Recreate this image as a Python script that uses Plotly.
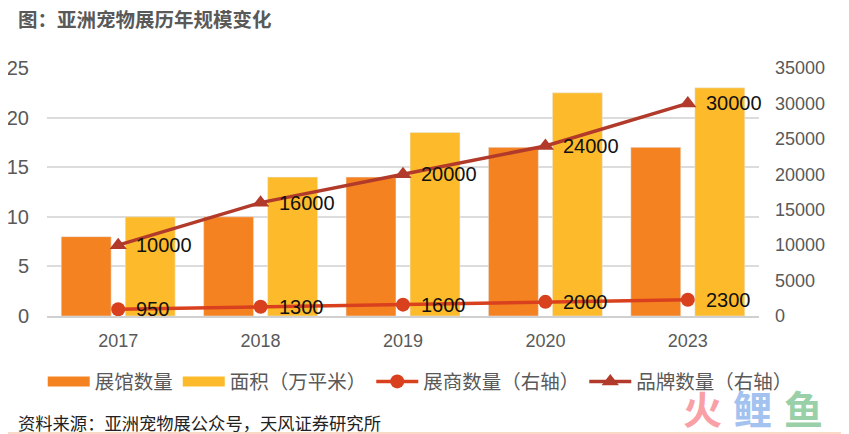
import plotly.graph_objects as go

years = ['2017', '2018', '2019', '2020', '2023']
halls = [8, 10, 14, 17, 17]
area = [10, 14, 18.5, 22.5, 23]
exhibitors = [950, 1300, 1600, 2000, 2300]
brands = [10000, 16000, 20000, 24000, 30000]

FONT = 'Liberation Sans, Noto Sans CJK SC, sans-serif'
CJK = 'Noto Sans CJK SC, sans-serif'
ORANGE = '#F58220'
YELLOW = '#FDBB2B'
RED = '#D9411E'
BROWN = '#B23A2A'

fig = go.Figure()
fig.add_trace(go.Bar(x=years, y=halls, marker_color=ORANGE, showlegend=False))
fig.add_trace(go.Bar(x=years, y=area, marker_color=YELLOW, showlegend=False))
# thick legend-only lines, the bar swatches are too small otherwise
fig.add_trace(go.Scatter(x=years, y=[None] * 5, name='展馆数量', mode='lines',
                         line=dict(color=ORANGE, width=10)))
fig.add_trace(go.Scatter(x=years, y=[None] * 5, name='面积（万平米）', mode='lines',
                         line=dict(color=YELLOW, width=10)))
fig.add_trace(go.Scatter(x=years, y=exhibitors, name='展商数量（右轴）', yaxis='y2',
                         mode='lines+markers',
                         line=dict(color=RED, width=3.5),
                         marker=dict(color=RED, size=14, symbol='circle')))
fig.add_trace(go.Scatter(x=years, y=brands, name='品牌数量（右轴）', yaxis='y2',
                         mode='lines+markers',
                         line=dict(color=BROWN, width=3.5),
                         marker=dict(color=BROWN, size=15, symbol='triangle-up')))

notes = [
    dict(text='<b>图：亚洲宠物展历年规模变化</b>', xref='paper', yref='paper',
         x=-0.044, y=1.2, xanchor='left', yanchor='middle', showarrow=False,
         font=dict(size=19.5, color='#595959', family=CJK)),
    dict(text='资料来源：亚洲宠物展公众号，天风证券研究所', xref='paper', yref='paper',
         x=-0.043, y=-0.431, xanchor='left', yanchor='middle', showarrow=False,
         font=dict(size=17.3, color='#222222', family=CJK)),
]
# data labels sit further from the markers than textposition allows
# (x is the category index: '2017' as a string reads as position 2017)
for vals in (exhibitors, brands):
    for i, v in enumerate(vals):
        notes.append(dict(text=str(v), x=i, y=v, xref='x', yref='y2', xshift=16,
                          xanchor='left', yanchor='middle', showarrow=False,
                          font=dict(size=20, color='#111111', family=FONT)))
# watermark
for ch, col, px in [('火', '#F9A0A6', 702), ('鲤', '#A4C2F0', 752), ('鱼', '#9AD0A8', 803)]:
    notes.append(dict(text='<b>%s</b>' % ch, xref='paper', yref='paper',
                      x=(px - 47) / 712, y=-0.367, xanchor='center', yanchor='middle',
                      showarrow=False, font=dict(size=39, color=col, family=CJK)))

fig.update_layout(
    width=841, height=426,
    autosize=False,
    paper_bgcolor='white', plot_bgcolor='white',
    margin=dict(l=39, r=90, t=60, b=118),
    barmode='group', bargap=0.101, bargroupgap=0.22,
    font=dict(family=FONT, size=18, color='#595959'),
    # fixed range, the labels on the last point would widen it otherwise
    xaxis=dict(type='category', categoryorder='array', categoryarray=years,
               range=[-0.5, 4.5], automargin=False, showline=True,
               linecolor='#d0d0d0', linewidth=1.5, ticks='', showgrid=False,
               tickfont=dict(size=18), ticklabelstandoff=8),
    yaxis=dict(range=[0, 25], dtick=5, gridcolor='#dcdcdc', gridwidth=1.5, automargin=False,
               zeroline=False, ticks='outside', ticklen=13, tickcolor='rgba(0,0,0,0)',
               tickfont=dict(size=20)),
    yaxis2=dict(range=[0, 35000], dtick=5000, tickformat='d', overlaying='y', side='right',
                automargin=False, showgrid=False, zeroline=False, ticks='',
                ticklabelstandoff=15, tickfont=dict(size=18)),
    legend=dict(orientation='h', x=-0.006, xanchor='left', y=-0.265, yanchor='middle',
                font=dict(size=19.5, color='#595959', family=CJK),
                itemwidth=42, bgcolor='rgba(0,0,0,0)'),
    annotations=notes,
    shapes=[dict(type='line', xref='paper', yref='paper', x0=-0.055, x1=1.127,
                 y0=-0.472, y1=-0.472, line=dict(color='#F9CDB4', width=1.5))],
)

fig.write_html('out.html')
